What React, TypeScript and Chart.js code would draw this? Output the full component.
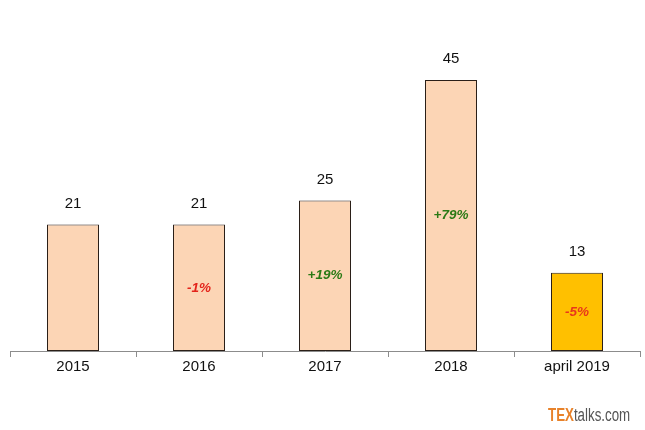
import React, { useEffect, useRef } from "react";
import { Chart, registerables } from "chart.js";

Chart.register(...registerables);

const categories = ["2015", "2016", "2017", "2018", "april 2019"];
const values = [21, 21, 25, 45, 13];
const changeLabels = ["", "-1%", "+19%", "+79%", "-5%"];
const changeColors = ["", "#e3231b", "#2b7a16", "#2b7a16", "#e8361c"];
const barColors = ["#fcd5b5", "#fcd5b5", "#fcd5b5", "#fcd5b5", "#ffc000"];

const labelPlugin = {
  id: "barLabels",
  afterDatasetsDraw(chart: any) {
    const ctx = chart.ctx;
    const meta = chart.getDatasetMeta(0);
    ctx.save();
    ctx.textAlign = "center";
    ctx.textBaseline = "middle";
    meta.data.forEach((bar: any, i: number) => {
      ctx.font = "15px 'Liberation Sans', Arial, sans-serif";
      ctx.fillStyle = "#111111";
      ctx.fillText(String(values[i]), bar.x, bar.y - 21);
      if (changeLabels[i]) {
        ctx.font = "italic bold 13.5px 'Liberation Sans', Arial, sans-serif";
        ctx.fillStyle = changeColors[i];
        const mid = (bar.y + bar.base) / 2;
        ctx.fillText(changeLabels[i], bar.x, mid);
      }
    });
    ctx.restore();
  },
};

export default function App() {
  const ref = useRef<HTMLCanvasElement>(null);
  useEffect(() => {
    document.body.style.margin = "0";
    const chart = new Chart(ref.current!, {
      type: "bar",
      data: {
        labels: categories,
        datasets: [
          {
            data: values,
            backgroundColor: barColors,
            borderColor: "#2a1f18",
            borderWidth: 1,
            borderSkipped: false,
            barPercentage: 52 / 126,
            categoryPercentage: 1,
          },
        ],
      },
      options: {
        animation: false,
        responsive: false,
        layout: { padding: { left: 10, right: 5, top: 50, bottom: 53 } },
        plugins: { legend: { display: false }, tooltip: { enabled: false } },
        scales: {
          x: {
            offset: true,
            grid: {
              offset: true,
              drawOnChartArea: false,
              tickLength: 6,
              color: "#8c8c8c",
            },
            border: { color: "#8c8c8c", width: 1 },
            ticks: {
              padding: 1,
              color: "#111111",
              font: { size: 15, family: "'Liberation Sans', Arial, sans-serif" },
            },
          },
          y: { display: false, min: 0, max: 50 },
        },
      },
      plugins: [labelPlugin],
    });
    return () => chart.destroy();
  }, []);
  return (
    <div style={{ position: "relative", width: 645, height: 430, background: "#fff" }}>
      <canvas ref={ref} width={645} height={430} />
      <div
        style={{
          position: "absolute",
          left: 548,
          top: 405,
          whiteSpace: "nowrap",
          fontFamily: "'Liberation Sans', Arial, sans-serif",
          fontSize: 18,
          lineHeight: "20px",
          transform: "scaleX(0.74)",
          transformOrigin: "left top",
        }}
      >
        <span style={{ color: "#e8822a", fontWeight: "bold" }}>TEX</span>
        <span style={{ color: "#555555" }}>talks.com</span>
      </div>
    </div>
  );
}
